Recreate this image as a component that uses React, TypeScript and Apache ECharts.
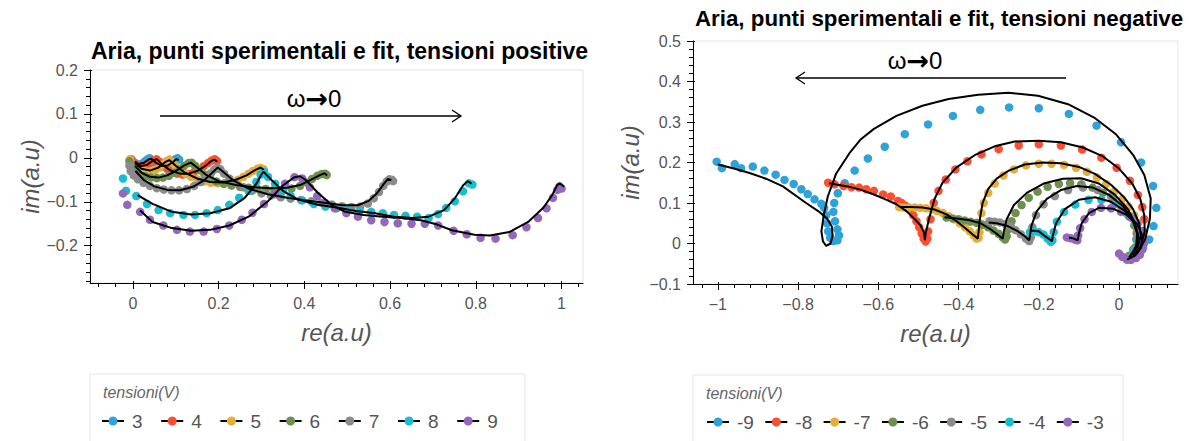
import React, { useEffect, useRef } from 'react';
import * as echarts from 'echarts';

const COLORS = ['#30a2da', '#fc4f30', '#e5ae38', '#6d904f', '#8b8b8b', '#17becf', '#9467bd'];
const POS_LABELS = ['3', '4', '5', '6', '7', '8', '9'];
const NEG_LABELS = ['-9', '-8', '-7', '-6', '-5', '-4', '-3'];
const POS_TITLE = 'Aria, punti sperimentali e fit, tensioni positive';
const NEG_TITLE = 'Aria, punti sperimentali e fit, tensioni negative';
const LEGEND_TITLE = 'tensioni(V)';
const X_NAME = 're(a.u)';
const Y_NAME = 'im(a.u)';

const POS_X_MAJOR = [0, 0.2, 0.4, 0.6, 0.8, 1];
const POS_Y_MAJOR = [-0.2, -0.1, 0, 0.1, 0.2];
const NEG_X_MAJOR = [-1, -0.8, -0.6, -0.4, -0.2, 0];
const NEG_Y_MAJOR = [-0.1, 0, 0.1, 0.2, 0.3, 0.4, 0.5];

// ---------- positive voltages ----------
const pos3Pts = [[-0.003,-0.004],[0.004,-0.011],[0.012,-0.015],[0.02,-0.014],[0.027,-0.009],[0.033,-0.004],[0.039,-0.001],[0.045,-0.005],[0.052,-0.012],[0.06,-0.017],[0.069,-0.02],[0.078,-0.019],[0.086,-0.014],[0.093,-0.008],[0.099,-0.003],[0.104,-0.001],[0.108,-0.004]];
const pos3Fit = [[0.004,-0.008],[0.014,-0.014],[0.026,-0.011],[0.038,-0.003],[0.043,-0.002],[0.052,-0.01],[0.066,-0.018],[0.08,-0.018],[0.093,-0.01],[0.101,-0.003],[0.107,-0.005]];
const pos4Pts = [[-0.004,-0.003],[0.003,-0.011],[0.011,-0.017],[0.021,-0.02],[0.031,-0.018],[0.04,-0.012],[0.048,-0.006],[0.055,-0.003],[0.062,-0.009],[0.07,-0.017],[0.08,-0.025],[0.091,-0.031],[0.103,-0.036],[0.116,-0.038],[0.129,-0.037],[0.142,-0.033],[0.154,-0.027],[0.165,-0.019],[0.175,-0.012],[0.184,-0.006],[0.191,-0.003],[0.196,-0.007]];
const pos4Fit = [[0.005,-0.011],[0.018,-0.019],[0.033,-0.016],[0.047,-0.006],[0.056,-0.003],[0.068,-0.015],[0.088,-0.029],[0.11,-0.036],[0.13,-0.036],[0.15,-0.03],[0.168,-0.019],[0.183,-0.007],[0.19,-0.004],[0.197,-0.009]];
const pos5Pts = [[-0.007,-0.003],[-0.002,-0.012],[0.006,-0.02],[0.016,-0.026],[0.028,-0.03],[0.04,-0.031],[0.052,-0.028],[0.063,-0.022],[0.072,-0.014],[0.079,-0.007],[0.085,-0.004],[0.092,-0.01],[0.1,-0.019],[0.11,-0.028],[0.122,-0.036],[0.135,-0.043],[0.15,-0.049],[0.166,-0.054],[0.182,-0.057],[0.198,-0.058],[0.214,-0.058],[0.23,-0.055],[0.245,-0.05],[0.258,-0.043],[0.27,-0.036],[0.28,-0.03],[0.29,-0.025],[0.298,-0.023],[0.305,-0.026]];
const pos5Fit = [[0.005,-0.012],[0.02,-0.025],[0.04,-0.029],[0.06,-0.022],[0.075,-0.01],[0.085,-0.005],[0.1,-0.018],[0.12,-0.033],[0.15,-0.047],[0.18,-0.055],[0.21,-0.056],[0.24,-0.05],[0.265,-0.04],[0.285,-0.028],[0.298,-0.022],[0.305,-0.027]];
const pos6Pts = [[-0.008,-0.008],[-0.004,-0.02],[0.004,-0.03],[0.015,-0.037],[0.028,-0.042],[0.042,-0.045],[0.056,-0.046],[0.07,-0.045],[0.084,-0.041],[0.097,-0.034],[0.109,-0.026],[0.12,-0.018],[0.13,-0.012],[0.137,-0.011],[0.145,-0.018],[0.155,-0.028],[0.167,-0.038],[0.18,-0.047],[0.195,-0.054],[0.212,-0.059],[0.23,-0.063],[0.25,-0.066],[0.27,-0.068],[0.29,-0.07],[0.31,-0.071],[0.33,-0.072],[0.35,-0.072],[0.37,-0.07],[0.39,-0.064],[0.405,-0.056],[0.418,-0.048],[0.43,-0.041],[0.44,-0.037],[0.448,-0.036],[0.452,-0.039]];
const pos6Fit = [[0.005,-0.018],[0.02,-0.034],[0.04,-0.043],[0.06,-0.045],[0.08,-0.04],[0.1,-0.03],[0.12,-0.017],[0.135,-0.011],[0.15,-0.022],[0.17,-0.038],[0.2,-0.053],[0.24,-0.062],[0.28,-0.067],[0.32,-0.069],[0.36,-0.068],[0.39,-0.062],[0.415,-0.05],[0.435,-0.04],[0.447,-0.035],[0.453,-0.04]];
const pos7Pts = [[-0.008,-0.018],[-0.005,-0.03],[0.002,-0.04],[0.012,-0.049],[0.025,-0.057],[0.04,-0.064],[0.056,-0.069],[0.072,-0.072],[0.09,-0.074],[0.108,-0.074],[0.126,-0.071],[0.143,-0.064],[0.158,-0.055],[0.171,-0.045],[0.182,-0.035],[0.19,-0.027],[0.197,-0.022],[0.204,-0.026],[0.213,-0.036],[0.225,-0.047],[0.24,-0.058],[0.258,-0.067],[0.278,-0.075],[0.3,-0.081],[0.322,-0.086],[0.345,-0.09],[0.368,-0.093],[0.392,-0.096],[0.416,-0.099],[0.44,-0.102],[0.464,-0.106],[0.488,-0.11],[0.51,-0.112],[0.53,-0.111],[0.548,-0.104],[0.562,-0.092],[0.574,-0.078],[0.584,-0.064],[0.592,-0.054],[0.598,-0.049],[0.604,-0.05],[0.607,-0.053]];
const pos7Fit = [[0.006,-0.03],[0.025,-0.05],[0.05,-0.065],[0.08,-0.073],[0.11,-0.074],[0.14,-0.066],[0.165,-0.052],[0.185,-0.034],[0.198,-0.022],[0.212,-0.033],[0.235,-0.052],[0.27,-0.07],[0.315,-0.083],[0.36,-0.091],[0.405,-0.097],[0.45,-0.103],[0.49,-0.108],[0.525,-0.108],[0.55,-0.098],[0.57,-0.08],[0.585,-0.06],[0.595,-0.048],[0.603,-0.051]];
const pos8Pts = [[-0.023,-0.047],[-0.016,-0.075],[0.008,-0.087],[0.033,-0.105],[0.06,-0.119],[0.087,-0.126],[0.118,-0.13],[0.145,-0.13],[0.172,-0.126],[0.198,-0.119],[0.225,-0.107],[0.248,-0.091],[0.27,-0.075],[0.288,-0.055],[0.298,-0.038],[0.306,-0.032],[0.315,-0.043],[0.332,-0.059],[0.35,-0.075],[0.368,-0.087],[0.395,-0.097],[0.422,-0.105],[0.449,-0.111],[0.475,-0.115],[0.502,-0.119],[0.529,-0.121],[0.556,-0.123],[0.583,-0.126],[0.609,-0.13],[0.636,-0.132],[0.663,-0.134],[0.69,-0.137],[0.712,-0.128],[0.731,-0.114],[0.751,-0.099],[0.77,-0.076],[0.784,-0.058],[0.792,-0.061]];
const pos8Fit = [[0.011,-0.085],[0.046,-0.105],[0.091,-0.123],[0.136,-0.129],[0.18,-0.126],[0.225,-0.115],[0.261,-0.091],[0.288,-0.059],[0.301,-0.036],[0.305,-0.032],[0.324,-0.051],[0.35,-0.075],[0.386,-0.095],[0.431,-0.107],[0.475,-0.113],[0.52,-0.121],[0.565,-0.126],[0.609,-0.134],[0.654,-0.137],[0.69,-0.134],[0.726,-0.119],[0.752,-0.091],[0.77,-0.063],[0.781,-0.053],[0.79,-0.059]];
const pos9Pts = [[-0.023,-0.081],[-0.013,-0.107],[0.017,-0.123],[0.04,-0.141],[0.071,-0.154],[0.103,-0.164],[0.133,-0.168],[0.165,-0.168],[0.196,-0.162],[0.225,-0.154],[0.254,-0.141],[0.279,-0.125],[0.306,-0.105],[0.332,-0.083],[0.355,-0.059],[0.377,-0.044],[0.395,-0.047],[0.413,-0.067],[0.43,-0.087],[0.449,-0.103],[0.471,-0.115],[0.498,-0.126],[0.525,-0.134],[0.556,-0.142],[0.587,-0.146],[0.618,-0.149],[0.65,-0.15],[0.681,-0.15],[0.712,-0.154],[0.748,-0.166],[0.779,-0.174],[0.811,-0.182],[0.846,-0.184],[0.886,-0.176],[0.918,-0.158],[0.945,-0.137],[0.965,-0.115],[0.98,-0.091],[0.99,-0.073],[0.995,-0.065],[1.0,-0.07]];
const pos9Fit = [[0.017,-0.12],[0.046,-0.146],[0.091,-0.16],[0.136,-0.166],[0.18,-0.164],[0.225,-0.154],[0.27,-0.134],[0.315,-0.099],[0.35,-0.063],[0.377,-0.044],[0.39,-0.042],[0.404,-0.051],[0.431,-0.079],[0.466,-0.109],[0.493,-0.122],[0.538,-0.13],[0.583,-0.134],[0.627,-0.137],[0.672,-0.142],[0.71,-0.152],[0.744,-0.165],[0.797,-0.175],[0.833,-0.177],[0.878,-0.169],[0.922,-0.146],[0.958,-0.113],[0.978,-0.085],[0.99,-0.062],[0.996,-0.058],[1.006,-0.066]];

// ---------- negative voltages ----------
const neg9Pts = [[0.06,-0.01],[0.075,0.01],[0.086,0.043],[0.093,0.088],[0.085,0.142],[0.055,0.2],[0.005,0.25],[-0.056,0.291],[-0.125,0.32],[-0.2,0.334],[-0.274,0.336],[-0.346,0.33],[-0.414,0.315],[-0.476,0.294],[-0.534,0.27],[-0.584,0.239],[-0.626,0.21],[-0.659,0.18],[-0.684,0.149],[-0.701,0.124],[-0.71,0.1],[-0.712,0.078],[-0.708,0.055],[-0.702,0.035],[-0.698,0.02],[-0.702,0.008],[-0.712,0.006],[-0.72,0.014],[-0.725,0.03],[-0.728,0.05],[-0.73,0.07],[-0.735,0.088],[-0.742,0.098],[-0.759,0.109],[-0.776,0.122],[-0.792,0.134],[-0.811,0.147],[-0.834,0.157],[-0.856,0.17],[-0.884,0.18],[-0.913,0.19],[-0.942,0.186],[-0.958,0.196],[-0.99,0.186],[-1.003,0.202]];
const neg9Fit = [[0.045,-0.025],[0.065,0.01],[0.077,0.061],[0.079,0.111],[0.063,0.169],[0.035,0.219],[-0.007,0.269],[-0.062,0.311],[-0.127,0.344],[-0.202,0.365],[-0.276,0.372],[-0.351,0.367],[-0.425,0.357],[-0.49,0.34],[-0.555,0.315],[-0.611,0.283],[-0.645,0.256],[-0.672,0.223],[-0.705,0.173],[-0.726,0.116],[-0.736,0.07],[-0.742,0.03],[-0.738,0.005],[-0.73,-0.006],[-0.719,0.0],[-0.714,0.02],[-0.716,0.042],[-0.728,0.062],[-0.75,0.08],[-0.78,0.1],[-0.838,0.141],[-0.88,0.16],[-0.921,0.174],[-0.96,0.185],[-1.0,0.195]];
const neg8Pts = [[0.04,-0.02],[0.055,0.0],[0.06,0.03],[0.063,0.06],[0.058,0.09],[0.047,0.12],[0.027,0.155],[-0.006,0.187],[-0.044,0.212],[-0.092,0.232],[-0.145,0.242],[-0.2,0.245],[-0.25,0.242],[-0.3,0.233],[-0.343,0.22],[-0.378,0.203],[-0.408,0.183],[-0.432,0.158],[-0.45,0.13],[-0.462,0.1],[-0.47,0.06],[-0.476,0.03],[-0.478,0.012],[-0.482,0.005],[-0.487,0.012],[-0.492,0.025],[-0.498,0.04],[-0.505,0.055],[-0.513,0.07],[-0.522,0.083],[-0.532,0.093],[-0.542,0.1],[-0.551,0.105],[-0.569,0.116],[-0.588,0.121],[-0.611,0.13],[-0.63,0.134],[-0.648,0.138],[-0.667,0.139],[-0.687,0.142],[-0.709,0.146],[-0.725,0.15]];
const neg8Fit = [[0.035,-0.03],[0.055,-0.005],[0.064,0.03],[0.063,0.07],[0.053,0.11],[0.033,0.148],[0.0,0.185],[-0.04,0.215],[-0.09,0.237],[-0.145,0.25],[-0.2,0.254],[-0.26,0.252],[-0.31,0.24],[-0.36,0.218],[-0.405,0.188],[-0.44,0.15],[-0.46,0.11],[-0.474,0.06],[-0.482,0.025],[-0.484,0.008],[-0.486,0.027],[-0.495,0.045],[-0.509,0.06],[-0.53,0.08],[-0.555,0.097],[-0.585,0.11],[-0.611,0.121],[-0.645,0.133],[-0.677,0.141],[-0.723,0.149]];
const neg7Pts = [[0.03,-0.03],[0.045,-0.015],[0.054,0.005],[0.054,0.025],[0.048,0.05],[0.038,0.07],[0.024,0.09],[0.007,0.109],[-0.012,0.128],[-0.032,0.147],[-0.055,0.163],[-0.08,0.177],[-0.107,0.187],[-0.137,0.194],[-0.168,0.197],[-0.2,0.197],[-0.232,0.193],[-0.262,0.183],[-0.288,0.168],[-0.31,0.148],[-0.326,0.125],[-0.337,0.1],[-0.343,0.075],[-0.346,0.05],[-0.348,0.028],[-0.35,0.014],[-0.355,0.012],[-0.362,0.02],[-0.372,0.03],[-0.384,0.04],[-0.397,0.05],[-0.411,0.06],[-0.425,0.068],[-0.439,0.075],[-0.453,0.08],[-0.467,0.084],[-0.481,0.087],[-0.495,0.088],[-0.509,0.089],[-0.523,0.089],[-0.537,0.089],[-0.548,0.09]];
const neg7Fit = [[0.03,-0.028],[0.048,-0.005],[0.054,0.02],[0.05,0.05],[0.035,0.085],[0.012,0.115],[-0.02,0.145],[-0.06,0.172],[-0.1,0.189],[-0.145,0.198],[-0.19,0.2],[-0.235,0.195],[-0.275,0.18],[-0.305,0.16],[-0.326,0.135],[-0.34,0.1],[-0.347,0.06],[-0.35,0.03],[-0.352,0.012],[-0.362,0.02],[-0.38,0.035],[-0.405,0.055],[-0.43,0.072],[-0.46,0.084],[-0.49,0.089],[-0.52,0.09],[-0.545,0.09]];
const neg6Pts = [[0.025,-0.03],[0.04,-0.01],[0.046,0.012],[0.044,0.025],[0.038,0.045],[0.024,0.068],[0.006,0.09],[-0.015,0.108],[-0.04,0.125],[-0.066,0.138],[-0.094,0.146],[-0.122,0.149],[-0.15,0.147],[-0.178,0.14],[-0.203,0.128],[-0.225,0.113],[-0.243,0.095],[-0.258,0.075],[-0.268,0.055],[-0.276,0.035],[-0.28,0.018],[-0.284,0.01],[-0.29,0.015],[-0.3,0.024],[-0.313,0.032],[-0.326,0.04],[-0.34,0.046],[-0.355,0.051],[-0.37,0.054],[-0.385,0.057],[-0.4,0.06],[-0.415,0.062],[-0.43,0.064]];
const neg6Fit = [[0.03,-0.028],[0.045,-0.005],[0.047,0.02],[0.04,0.05],[0.022,0.085],[-0.01,0.12],[-0.05,0.148],[-0.095,0.161],[-0.14,0.16],[-0.188,0.148],[-0.23,0.125],[-0.262,0.095],[-0.28,0.06],[-0.287,0.03],[-0.29,0.012],[-0.3,0.02],[-0.32,0.035],[-0.345,0.05],[-0.375,0.058],[-0.405,0.062],[-0.435,0.065]];
const neg5Pts = [[0.02,-0.035],[0.035,-0.015],[0.043,0.01],[0.045,0.035],[0.031,0.064],[0.007,0.093],[-0.02,0.117],[-0.053,0.132],[-0.09,0.138],[-0.127,0.132],[-0.16,0.117],[-0.188,0.097],[-0.207,0.07],[-0.216,0.04],[-0.22,0.015],[-0.224,0.006],[-0.232,0.012],[-0.245,0.023],[-0.258,0.033],[-0.27,0.042],[-0.283,0.048],[-0.297,0.052],[-0.31,0.054],[-0.323,0.055]];
const neg5Fit = [[0.03,-0.03],[0.043,-0.005],[0.045,0.025],[0.033,0.06],[0.01,0.092],[-0.025,0.12],[-0.065,0.138],[-0.105,0.142],[-0.145,0.132],[-0.18,0.11],[-0.205,0.08],[-0.218,0.045],[-0.222,0.02],[-0.224,0.008],[-0.235,0.018],[-0.255,0.032],[-0.28,0.044],[-0.305,0.05],[-0.325,0.052]];
const neg4Pts = [[0.02,-0.04],[0.035,-0.02],[0.047,0.005],[0.051,0.023],[0.04,0.052],[0.017,0.076],[-0.011,0.097],[-0.044,0.108],[-0.076,0.108],[-0.109,0.096],[-0.137,0.078],[-0.155,0.054],[-0.163,0.028],[-0.166,0.008],[-0.17,0.004],[-0.178,0.012],[-0.188,0.022],[-0.2,0.028],[-0.212,0.03],[-0.222,0.028]];
const neg4Fit = [[0.025,-0.035],[0.042,-0.01],[0.048,0.02],[0.038,0.05],[0.015,0.08],[-0.02,0.103],[-0.06,0.114],[-0.1,0.108],[-0.135,0.085],[-0.157,0.05],[-0.165,0.02],[-0.167,0.006],[-0.18,0.015],[-0.2,0.03],[-0.222,0.032]];
const neg3Pts = [[0.0,-0.025],[0.008,-0.033],[0.018,-0.038],[0.03,-0.04],[0.042,-0.036],[0.052,-0.028],[0.058,-0.015],[0.062,0.0],[0.062,0.012],[0.058,0.031],[0.045,0.05],[0.028,0.065],[0.005,0.078],[-0.02,0.087],[-0.045,0.088],[-0.068,0.078],[-0.086,0.06],[-0.097,0.038],[-0.102,0.02],[-0.104,0.008],[-0.11,0.01],[-0.12,0.013],[-0.13,0.015]];
const neg3Fit = [[0.02,-0.04],[0.04,-0.03],[0.055,-0.01],[0.058,0.02],[0.045,0.048],[0.02,0.07],[-0.015,0.086],[-0.05,0.088],[-0.075,0.075],[-0.093,0.05],[-0.1,0.025],[-0.103,0.008],[-0.112,0.012],[-0.125,0.015]];

const POS_PTS = [pos3Pts, pos4Pts, pos5Pts, pos6Pts, pos7Pts, pos8Pts, pos9Pts];
const POS_FIT = [pos3Fit, pos4Fit, pos5Fit, pos6Fit, pos7Fit, pos8Fit, pos9Fit];
const NEG_PTS = [neg9Pts, neg8Pts, neg7Pts, neg6Pts, neg5Pts, neg4Pts, neg3Pts];
const NEG_FIT = [neg9Fit, neg8Fit, neg7Fit, neg6Fit, neg5Fit, neg4Fit, neg3Fit];

const FONT = 'Liberation Sans, Arial, Helvetica, sans-serif';

function steps(a: number, b: number, s: number) {
  const out: number[] = [];
  for (let k = Math.round(a / s); k <= Math.round(b / s); k++) out.push(+(k * s).toFixed(4));
  return out;
}
const fmt = (v: number) => String(Math.round(v * 100) / 100).replace('-', '\u2212');

function axisSet(kind: 'x' | 'y', grid: number, min: number, max: number, major: number[], minor: number[], name: string, nameGap: number) {
  const pos = kind === 'x' ? 'bottom' : 'left';
  const base = { type: 'value', gridIndex: grid, min, max, position: pos, splitLine: { show: false } };
  return [
    {
      ...base,
      name,
      nameLocation: 'middle',
      nameGap,
      nameMoveOverlap: false,
      nameTextStyle: { fontFamily: FONT, fontStyle: 'italic', fontSize: 24, color: '#555' },
      axisLine: { show: true, onZero: false, lineStyle: { color: '#000', width: 1 } },
      axisTick: { show: true, customValues: major, length: 6, lineStyle: { color: '#000' } },
      axisLabel: { show: true, customValues: major, formatter: fmt, color: '#555', fontFamily: FONT, fontSize: 16, margin: 12 },
    },
    {
      ...base,
      axisLine: { show: false, onZero: false },
      axisTick: { show: true, customValues: minor, length: 4, lineStyle: { color: '#000' } },
      axisLabel: { show: false },
    },
    {
      ...base,
      axisLine: { show: false, onZero: false },
      axisTick: { show: true, inside: true, customValues: major, length: 2, lineStyle: { color: '#000' } },
      axisLabel: { show: false },
    },
  ];
}

function legendGraphics(x0: number, top: number, width: number, labels: string[], cx0: number, step: number) {
  const els: any[] = [
    { type: 'rect', shape: { x: x0, y: top, width, height: 90 }, style: { fill: '#fff', stroke: '#e5e5e5', lineWidth: 1 } },
    { type: 'text', x: x0 + 13, y: top + 18, style: { text: LEGEND_TITLE, fontFamily: FONT, fontStyle: 'italic', fontSize: 16, fill: '#666', align: 'left', verticalAlign: 'middle' } },
  ];
  labels.forEach((lab, i) => {
    const cx = cx0 + i * step;
    const cy = top + 47;
    els.push({ type: 'line', shape: { x1: cx - 11, y1: cy, x2: cx + 11, y2: cy }, style: { stroke: '#000', lineWidth: 2 } });
    els.push({ type: 'circle', shape: { cx, cy, r: 4.5 }, style: { fill: COLORS[i] } });
    els.push({ type: 'text', x: cx + 19, y: cy, style: { text: lab, fontFamily: FONT, fontSize: 19, fill: '#555', align: 'left', verticalAlign: 'middle' } });
  });
  return els;
}

function arrowGraphics(x1: number, x2: number, y: number, tx: number, ty: number) {
  const dir = x2 > x1 ? 1 : -1;
  return [
    { type: 'line', shape: { x1, y1: y, x2, y2: y }, style: { stroke: '#000', lineWidth: 1.3 } },
    { type: 'polyline', shape: { points: [[x2 - dir * 9, y - 6], [x2, y], [x2 - dir * 9, y + 6]] }, style: { stroke: '#000', lineWidth: 1.3, fill: null } },
    {
      type: 'text', x: tx, y: ty,
      style: {
        text: '{a|\u03c9}{b|\u2192}{a|0}',
        align: 'center', verticalAlign: 'middle',
        rich: {
          a: { fontFamily: FONT, fontSize: 24, fill: '#000', color: '#000' },
          b: { fontFamily: 'DejaVu Sans', fontWeight: 'bold', fontSize: 27, fill: '#000', color: '#000' },
        },
      },
    },
  ];
}

export default function App() {
  const ref = useRef<HTMLDivElement>(null);
  useEffect(() => {
    if (!ref.current) return;
    const chart = echarts.init(ref.current, undefined, { renderer: 'svg' });

    const xAxes = [
      ...axisSet('x', 0, -0.1, 1.05, POS_X_MAJOR, steps(-0.08, 1.04, 0.04), X_NAME, 37),
      ...axisSet('x', 1, -1.062, 0.147, NEG_X_MAJOR, steps(-1.04, 0.12, 0.04), X_NAME, 37),
    ];
    const yAxes = [
      ...axisSet('y', 0, -0.285, 0.2, POS_Y_MAJOR, steps(-0.28, 0.2, 0.02), Y_NAME, 48),
      ...axisSet('y', 1, -0.1, 0.5, NEG_Y_MAJOR, steps(-0.1, 0.5, 0.02), Y_NAME, 51),
    ];

    const series: any[] = [];
    const add = (pts: number[][][], fits: number[][][], labels: string[], axis: number) => {
      pts.forEach((p, i) => {
        series.push({
          type: 'scatter', name: labels[i], data: p, xAxisIndex: axis, yAxisIndex: axis,
          symbolSize: 8.5, itemStyle: { color: COLORS[i], opacity: 1 }, z: 2,
        });
      });
      fits.forEach((f, i) => {
        series.push({
          type: 'line', name: labels[i] + ' fit', data: f, xAxisIndex: axis, yAxisIndex: axis,
          showSymbol: false, symbol: 'none', lineStyle: { color: '#000', width: 2 }, z: 3,
        });
      });
    };
    add(POS_PTS, POS_FIT, POS_LABELS, 0);
    add(NEG_PTS, NEG_FIT, NEG_LABELS, 3);

    chart.setOption({
      animation: false,
      backgroundColor: '#fff',
      grid: [
        { left: 90, top: 70, width: 493, height: 213, show: true, borderColor: '#e5e5e5', borderWidth: 1, backgroundColor: '#fff' },
        { left: 693, top: 41, width: 485, height: 243, show: true, borderColor: '#e5e5e5', borderWidth: 1, backgroundColor: '#fff' },
      ],
      xAxis: xAxes,
      yAxis: yAxes,
      series,
      graphic: [
        { type: 'text', x: 91, y: 51, style: { text: POS_TITLE, fontFamily: FONT, fontWeight: 'bold', fontSize: 23, fill: '#000', align: 'left', verticalAlign: 'middle' } },
        { type: 'text', x: 695, y: 18, style: { text: NEG_TITLE, fontFamily: FONT, fontWeight: 'bold', fontSize: 22.3, fill: '#000', align: 'left', verticalAlign: 'middle' } },
        ...arrowGraphics(160, 461, 116, 314, 98),
        ...arrowGraphics(1066, 796, 78, 915, 60),
        ...legendGraphics(90, 374, 435, POS_LABELS, 113, 59.2),
        ...legendGraphics(693, 375, 430, NEG_LABELS, 718, 58.3),
      ],
    });
    return () => chart.dispose();
  }, []);
  return <div ref={ref} style={{ position: 'absolute', left: 0, top: 0, width: 1192, height: 441 }} />;
}
